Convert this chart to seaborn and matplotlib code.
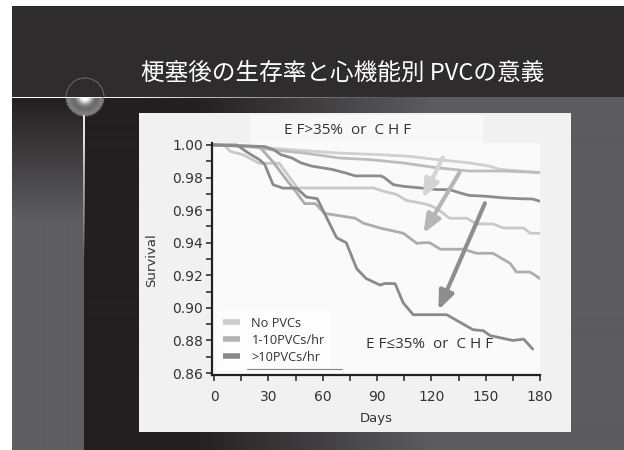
import numpy as np
import matplotlib
matplotlib.use("Agg")
import matplotlib.pyplot as plt
import seaborn as sns
from matplotlib.lines import Line2D
from matplotlib.patches import Rectangle, Circle
from matplotlib.ticker import MultipleLocator, FormatStrFormatter

# ---------------- data ----------------
title_text = "梗塞後の生存率と心機能別 PVCの意義"
x_label = "Days"
y_label = "Survival"
x_ticks = [0, 30, 60, 90, 120, 150, 180]
y_ticks = [0.86, 0.88, 0.90, 0.92, 0.94, 0.96, 0.98, 1.00]
legend_labels = ["No PVCs", "1-10PVCs/hr", ">10PVCs/hr"]
group_hi_label = "E F>35%  or  C H F"
group_lo_label = "E F≤35%  or  C H F"

# EF>35% (upper group)
hi_none_days = [0, 32, 50, 69, 92, 108, 123, 141, 152, 158, 180]
hi_none_surv = [1.0, 0.998, 0.9965, 0.995, 0.994, 0.993, 0.991, 0.989, 0.987, 0.985, 0.983]
hi_low_days = [0, 20, 32, 50, 69, 86, 104, 123, 141, 160, 180]
hi_low_surv = [1.0, 0.999, 0.997, 0.995, 0.992, 0.991, 0.989, 0.986, 0.984, 0.984, 0.983]
hi_high_days = [0, 28, 33, 37, 43, 48, 54, 59.5, 65, 72, 78, 92, 94, 99, 104.5, 114, 123, 130,
                136, 141, 150, 160, 169, 176, 180]
hi_high_surv = [1.0, 0.999, 0.997, 0.994, 0.992, 0.989, 0.987, 0.986, 0.985, 0.983, 0.981, 0.981,
                0.980, 0.9756, 0.9746, 0.9736, 0.9726, 0.9726, 0.9705, 0.969, 0.9685, 0.9675,
                0.967, 0.9668, 0.9654]

# EF<=35% (lower group)
lo_none_days = [0, 6, 9, 16, 25, 36, 46, 88, 93.5, 101, 106, 115.6, 119, 123, 130, 139.5, 145,
                154, 160, 171, 174.5, 180]
lo_none_surv = [1.0, 0.9995, 0.996, 0.994, 0.9887, 0.9887, 0.9736, 0.9736, 0.9716, 0.9695, 0.966,
                0.964, 0.963, 0.961, 0.955, 0.955, 0.9515, 0.9515, 0.949, 0.949, 0.9458, 0.9458]
lo_low_days = [0, 25, 33, 39, 44.7, 50, 56, 61, 78, 82.4, 91.7, 104.5, 112, 116, 119, 125, 137.6,
               145, 154, 163.4, 167, 174.5, 180]
lo_low_surv = [1.0, 0.999, 0.989, 0.980, 0.972, 0.964, 0.964, 0.958, 0.955, 0.952, 0.949, 0.9458,
               0.9396, 0.940, 0.940, 0.936, 0.936, 0.9335, 0.9335, 0.9274, 0.922, 0.922, 0.918]
lo_high_days = [0, 12.5, 19, 25, 28, 32.6, 38, 45.6, 51, 57, 61, 67.7, 73, 78.8, 84, 91.7, 94.4,
                100, 104.5, 110, 128.5, 143, 148.7, 152.4, 165, 171, 176]
lo_high_surv = [1.0, 1.0, 0.995, 0.991, 0.988, 0.9756, 0.9735, 0.9735, 0.968, 0.967, 0.958, 0.943,
                0.940, 0.924, 0.918, 0.914, 0.915, 0.9148, 0.903, 0.8958, 0.8958, 0.8866, 0.886,
                0.883, 0.880, 0.8808, 0.8747]

# arrows (start -> end, data coords)
arrow_starts = [(126.3, 0.9922), (135.5, 0.983), (149.6, 0.9642)]
arrow_ends = [(115.3, 0.9673), (115.6, 0.9458), (123.9, 0.8987)]

# ---------------- style ----------------
sns.set_style("ticks")
plt.rcParams["font.family"] = ["DejaVu Sans"]

W, H = 624, 450
fig = plt.figure(figsize=(6.24, 4.5), dpi=100)
fig.patch.set_facecolor("white")


def hexrgb(h):
    h = h.lstrip("#")
    return np.array([int(h[i:i + 2], 16) / 255 for i in (0, 2, 4)])


# background axes in pixel coords
bg = fig.add_axes([0, 0, 1, 1], zorder=-10)
bg.set_axis_off()

# top dark band
bg.add_patch(Rectangle((12, 6), W - 12, 91, color="#2e2c2d", lw=0))

# lower region horizontal gradient
dark = hexrgb("#221f20")
gray = hexrgb("#5c5c5e")
xs = np.arange(84, W)
t = np.clip((xs - 190) / (430 - 190), 0, 1)
row = dark[None, :] * (1 - t[:, None]) + gray[None, :] * t[:, None]
bg.imshow(row[None, :, :], extent=(84, W, H, 97), aspect="auto", interpolation="bilinear")

# left stripe vertical gradient
ys = np.arange(97, H)
tv = np.clip((ys - 97) / (220 - 97), 0, 1)
col = dark[None, :] * (1 - tv[:, None]) + hexrgb("#5e5e60")[None, :] * tv[:, None]
bg.imshow(col[:, None, :], extent=(12, 84, H, 97), aspect="auto", interpolation="bilinear")

# white lines (fading)
hl = np.ones((1, 400, 4))
hx = np.linspace(12, 412, 400)
hl[0, :, 3] = np.clip(1 - (hx - 140) / 260, 0, 1) * 0.95
bg.imshow(hl, extent=(12, 412, 98, 96.6), aspect="auto", interpolation="bilinear")
vl = np.ones((430, 1, 4))
vy = np.linspace(20, 450, 430)
va = np.interp(vy, [20, 27, 80, 140, 260, 450], [0, 0, 0.95, 0.85, 0.0, 0.0])
vl[:, 0, 3] = va
bg.imshow(vl, extent=(83.4, 84.8, 450, 20), aspect="auto", interpolation="bilinear")

# lens flare
R = 19
n = 151
gx, gy = np.meshgrid(np.linspace(-1, 1, n), np.linspace(-1, 1, n))
r = np.sqrt(gx ** 2 + gy ** 2)
v = np.where(r < 0.55, 0.30 + 0.05 * r, 0.33 + 0.22 * (r - 0.55) / 0.45)
glow = np.exp(-(r / 0.38) ** 2)
v = np.clip(v + glow * 0.85, 0, 1)
v = np.where(r < 0.18, 1.0, v)
img = np.zeros((n, n, 4))
img[..., 0] = v
img[..., 1] = v
img[..., 2] = v
img[..., 3] = np.clip((1 - r) * 20, 0, 1)
bg.imshow(img, extent=(85 - R, 85 + R, 97 + R, 97 - R), interpolation="bilinear")
bg.add_patch(Circle((85, 97), R, fill=False, ec="white", lw=0.6, alpha=0.7, ls=(0, (1, 1))))
bg.add_patch(Rectangle((12, 96.6), 90, 1.4, color="white", lw=0, alpha=0.95))

# chart panel
bg.add_patch(Rectangle((139, 113), 432, 319, color="#f1f1f1", lw=0))
bg.add_patch(Rectangle((250, 115), 233, 28, color="#f8f8f8", lw=0))

bg.set_xlim(0, W)
bg.set_ylim(H, 0)

# title
fig.text(342.5 / W, 1 - 73 / H, title_text, color="white", fontsize=17,
         family=["Noto Sans CJK JP", "DejaVu Sans"], ha="center", va="center")

# ---------------- main axes ----------------
ax = fig.add_axes([211.7 / W, 1 - 375 / H, (540 - 211.7) / W, (375 - 143.3) / H], zorder=1)
ax.set_facecolor("#fafafa")

series = [
    (hi_none_days, hi_none_surv, "#d0d0d0"),
    (hi_low_days, hi_low_surv, "#bcbcbc"),
    (lo_none_days, lo_none_surv, "#c9c9c9"),
    (lo_low_days, lo_low_surv, "#adadad"),
    (hi_high_days, hi_high_surv, "#8c8c8c"),
    (lo_high_days, lo_high_surv, "#8a8a8a"),
]
for d, s, c in series:
    sns.lineplot(x=d, y=s, ax=ax, color=c, lw=2.0, estimator=None, sort=False)

arrow_colors = ["#d4d4d4", "#b6b6b6", "#8e8e8e"]
for (sx, sy), (ex, ey), c in zip(arrow_starts, arrow_ends, arrow_colors):
    ax.annotate("", xy=(ex, ey), xytext=(sx, sy),
                arrowprops=dict(arrowstyle="-|>,head_length=1.1,head_width=0.45",
                                lw=3, color=c, shrinkA=0, shrinkB=0))

ax.set_xlim(-1.3, 180)
ax.set_ylim(0.8588, 1.001)
ax.set_xticks(x_ticks)
ax.xaxis.set_minor_locator(MultipleLocator(15))
ax.set_yticks(y_ticks)
ax.yaxis.set_minor_locator(MultipleLocator(0.01))
ax.yaxis.set_major_formatter(FormatStrFormatter("%.2f"))

for side in ["top", "right"]:
    ax.spines[side].set_visible(False)
for side in ["left", "bottom"]:
    ax.spines[side].set_linewidth(1.6)
    ax.spines[side].set_color("#222222")

ax.tick_params(which="both", direction="out", length=4, width=1.1, color="#222222")
ax.tick_params(axis="x", which="major", labelsize=10, labelcolor="#333333", pad=7)
ax.tick_params(axis="y", which="major", labelsize=10, labelcolor="#333333", pad=2)

ax.set_xlabel(x_label, fontsize=9.5, color="#333333", va="top")
ax.set_ylabel(y_label, fontsize=9.5, color="#333333")
ax.xaxis.set_label_coords(0.5026, -0.158)
ax.yaxis.set_label_coords(-0.163, 0.496)

# group labels
ef_font = ["Open Sans", "DejaVu Sans"]
fig.text(348 / W, 1 - 131 / H, group_hi_label, fontsize=11, color="#333333",
         family=ef_font, ha="center", va="center")
fig.text(430 / W, 1 - 345 / H, group_lo_label, fontsize=11, color="#333333",
         family=ef_font, ha="center", va="center", zorder=5)

# legend
handles = [Line2D([], [], color=c, lw=4, solid_capstyle="butt")
           for c in ["#cccccc", "#b2b2b2", "#8a8a8a"]]
leg = ax.legend(handles, legend_labels, loc="lower left", bbox_to_anchor=(0.016, 0.022),
                borderaxespad=0, frameon=True, facecolor="#fdfdfd", edgecolor="none",
                framealpha=1, fancybox=False, handlelength=1.3, handletextpad=0.9,
                labelspacing=0.3, borderpad=0.5,
                prop={"family": ef_font, "size": 9.2})
for txt in leg.get_texts():
    txt.set_color("#333333")
fig.add_artist(Line2D([246.7 / W, 341.7 / W], [1 - 369.3 / H] * 2, color="#888888", lw=0.8))

fig.savefig("out.png", dpi=100)
